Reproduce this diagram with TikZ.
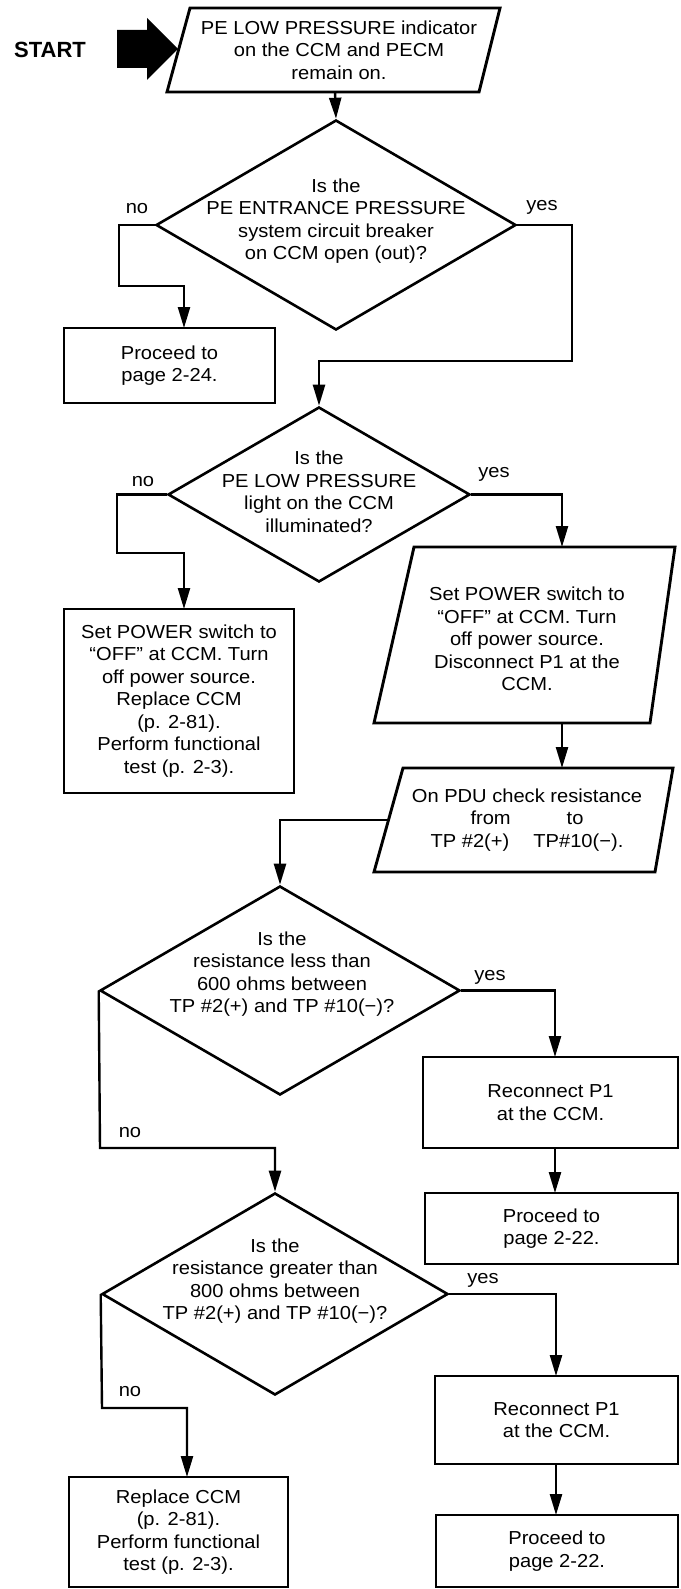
\documentclass[tikz,border=0pt]{standalone}
\usepackage{fontspec}
\setmainfont{Liberation Sans}
\newfontfamily\bodyfont{Liberation Sans}[FakeStretch=1.07]
\usetikzlibrary{arrows.meta,shapes.geometric}
\tikzset{
  txt/.style={font=\bodyfont\fontsize{9.4}{11.25}\selectfont, align=center, inner sep=0pt},
  lbl/.style={font=\bodyfont\fontsize{9.4}{11.25}\selectfont, inner sep=0pt},
  box/.style={draw, line width=1.45pt, rectangle, inner sep=0pt, txt},
  dia/.style={draw, line width=1.3pt, diamond, inner sep=0pt},
  outline/.style={draw, line width=1.45pt, line join=miter},
  arr/.style={line width=1.2pt, -{Triangle[length=10.5pt,width=6pt]}},
}
\begin{document}
\begin{tikzpicture}[x=0.5pt,y=-0.5pt]
\useasboundingbox (0,0) rectangle (680,1589);

% START
\node[font=\bfseries\fontsize{11}{13}\selectfont, inner sep=0pt] (start) at (50,50) {START};
\fill (117,30) -- (147,30) -- (147,18) -- (178,49) -- (147,80) -- (147,68) -- (117,68) -- cycle;

% P1
\coordinate (p1tl) at (190,8);
\coordinate (p1tr) at (500,8);
\coordinate (p1br) at (479,92);
\coordinate (p1bl) at (167,92);
\draw[outline] (p1tl) -- (p1tr) -- (p1br) -- (p1bl) -- cycle;
\node[txt] (p1) at (339,50) {PE LOW PRESSURE indicator\\on the CCM and PECM\\remain on.};
\coordinate (p1out) at (335,92);

% D1
\node[dia, minimum width=180pt, minimum height=105pt] (d1) at (336,225) {};
\node[txt] (d1t) at (336,221) {Is the\\PE ENTRANCE PRESSURE\\system circuit breaker\\on CCM open (out)?};
\node[lbl] (d1no) at (137,209) {no};
\node[lbl] (d1yes) at (542,207) {yes};

% B1
\node[box, minimum width=105.5pt, minimum height=37.5pt] (b1) at (169.5,365.5) {Proceed to\\page 2-24.};
\coordinate (b1in) at (184,328);

% D2
\node[dia, minimum width=151pt, minimum height=87.5pt] (d2) at (319,494.5) {};
\node[txt] (d2t) at (319,492) {Is the\\PE LOW PRESSURE\\light on the CCM\\illuminated?};
\node[lbl] (d2no) at (143,482) {no};
\node[lbl] (d2yes) at (494,474) {yes};

% B2
\node[box, minimum width=115pt, minimum height=92pt] (b2) at (179,701) {Set POWER switch to\\“OFF” at CCM. Turn\\off power source.\\Replace CCM\\(p. 2-81).\\Perform functional\\test (p. 2-3).};
\coordinate (b2in) at (184,609);

% P2
\coordinate (p2tl) at (414,547);
\coordinate (p2tr) at (675,547);
\coordinate (p2br) at (650,723);
\coordinate (p2bl) at (374,723);
\draw[outline] (p2tl) -- (p2tr) -- (p2br) -- (p2bl) -- cycle;
\node[txt] (p2) at (527,639) {Set POWER switch to\\“OFF” at CCM. Turn\\off power source.\\Disconnect P1 at the\\CCM.};
\coordinate (p2in) at (562,547);
\coordinate (p2out) at (562,723);

% P3
\coordinate (p3tl) at (403,768);
\coordinate (p3tr) at (673,768);
\coordinate (p3br) at (655,872);
\coordinate (p3bl) at (374,872);
\draw[outline] (p3tl) -- (p3tr) -- (p3br) -- (p3bl) -- cycle;
\node[txt] (p3) at (527,820) {On PDU check resistance\\from\hspace{28pt}to\\TP \#2(+)\hspace{12pt}TP\#10(−).};
\coordinate (p3in) at (562,768);
\coordinate (p3out) at (388.5,820);

% D3
\node[dia, minimum width=180pt, minimum height=104.5pt] (d3) at (280,990.5) {};
\node[txt] (d3t) at (282,974) {Is the\\resistance less than\\600 ohms between\\TP \#2(+) and TP \#10(−)?};
\node[lbl] (d3yes) at (490,977) {yes};
\node[lbl] (d3no) at (130,1133) {no};

% B3, B4
\node[box, minimum width=127.5pt, minimum height=45.5pt] (b3) at (550.5,1102.5) {Reconnect P1\\at the CCM.};
\coordinate (b3in) at (555,1057);
\coordinate (b3out) at (555,1148);
\node[box, minimum width=126.5pt, minimum height=35.5pt] (b4) at (551.5,1228.5) {Proceed to\\page 2-22.};
\coordinate (b4in) at (555,1193);

% D4
\node[dia, minimum width=173pt, minimum height=101pt] (d4) at (275,1294) {};
\node[txt] (d4t) at (275,1281) {Is the\\resistance greater than\\800 ohms between\\TP \#2(+) and TP \#10(−)?};
\node[lbl] (d4yes) at (483,1280) {yes};
\node[lbl] (d4no) at (130,1392) {no};

% B5, B6, B7
\node[box, minimum width=121.5pt, minimum height=44pt] (b5) at (556.5,1420) {Reconnect P1\\at the CCM.};
\coordinate (b5in) at (556,1376);
\coordinate (b5out) at (556,1464);
\node[box, minimum width=121pt, minimum height=36pt] (b6) at (557,1551) {Proceed to\\page 2-22.};
\coordinate (b6in) at (556,1515);
\node[box, minimum width=109.5pt, minimum height=55pt] (b7) at (178.5,1532) {Replace CCM\\(p. 2-81).\\Perform functional\\test (p. 2-3).};
\coordinate (b7in) at (187,1477);

% connectors
\draw[arr] (p1out) -- (d1.north);
\draw[arr] (d1.west) -- (119,225) -- (119,286) -| (b1in);
\draw[arr] (d1.east) -- (572,225) -- (572,361) -| (d2.north);
\draw[arr] (d2.west) -- (117,494.5) -- (117,553) -| (b2in);
\draw[arr] (d2.east) -| (p2in);
\draw[arr] (p2out) -- (p3in);
\draw[arr] (p3out) -| (d3.north);
\draw[arr] (d3.east) -| (b3in);
\draw[arr] (b3out) -- (b4in);
\draw[arr] (d3.west) -- (100,1148) -| (d4.north);
\draw[arr] (d4.east) -| (b5in);
\draw[arr] (b5out) -- (b6in);
\draw[arr] (d4.west) -- (102,1408) -| (b7in);
\end{tikzpicture}
\end{document}
